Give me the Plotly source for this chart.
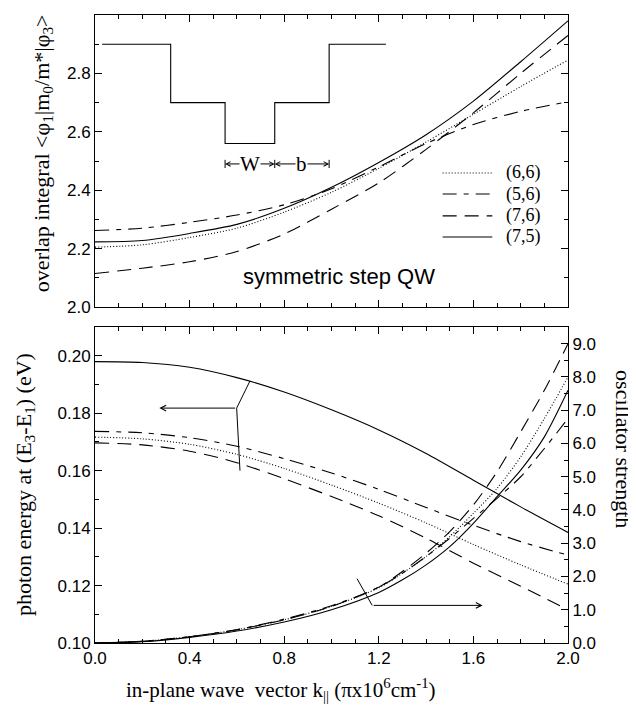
import plotly.graph_objects as go

# ---------------- data ----------------
# top panel: overlap integral vs k
k_top = [0.0, 0.2, 0.4, 0.6, 0.8, 1.0, 1.2, 1.4, 1.6, 1.8, 2.0]
overlap_66 = [2.205, 2.213, 2.238, 2.270, 2.325, 2.393, 2.475, 2.565, 2.660, 2.755, 2.846]
overlap_56 = [2.262, 2.270, 2.290, 2.315, 2.350, 2.405, 2.480, 2.560, 2.625, 2.670, 2.703]
overlap_76 = [2.115, 2.133, 2.155, 2.190, 2.250, 2.335, 2.425, 2.540, 2.665, 2.800, 2.930]
overlap_75 = [2.223, 2.228, 2.252, 2.283, 2.338, 2.410, 2.495, 2.590, 2.705, 2.840, 2.980]

# inset: symmetric step quantum-well profile
step_x = [0.03, 0.32, 0.32, 0.55, 0.55, 0.76, 0.76, 0.99, 0.99, 1.23]
step_y = [2.90, 2.90, 2.70, 2.70, 2.56, 2.56, 2.70, 2.70, 2.90, 2.90]

# bottom panel: photon energy (left axis)
k_energy = [0.0, 0.2, 0.4, 0.6, 0.8, 1.0, 1.2, 1.4, 1.6, 1.8, 2.0]
energy_66 = [0.1717, 0.1711, 0.1692, 0.1657, 0.1608, 0.1550, 0.1487, 0.1418, 0.1343, 0.1272, 0.1205]
energy_56 = [0.1737, 0.1732, 0.1715, 0.1685, 0.1642, 0.1592, 0.1535, 0.1472, 0.1410, 0.1353, 0.1306]
energy_76 = [0.1697, 0.1690, 0.1668, 0.1628, 0.1572, 0.1510, 0.1443, 0.1365, 0.1278, 0.1198, 0.1116]
energy_75 = [0.1980, 0.1977, 0.1960, 0.1924, 0.1874, 0.1812, 0.1742, 0.1660, 0.1567, 0.1474, 0.1385]

# bottom panel: oscillator strength (right axis)
k_osc = [0.0, 0.2, 0.4, 0.6, 0.8, 1.0, 1.2, 1.3, 1.4, 1.5, 1.6, 1.7, 1.8, 1.9, 2.0]
osc_66 = [0.0, 0.05, 0.19, 0.40, 0.70, 1.10, 1.66, 2.10, 2.60, 3.20, 3.90, 4.65, 5.60, 6.75, 8.00]
osc_56 = [0.0, 0.05, 0.19, 0.40, 0.72, 1.12, 1.68, 2.10, 2.60, 3.15, 3.75, 4.35, 5.00, 5.85, 6.75]
osc_76 = [0.0, 0.05, 0.19, 0.40, 0.70, 1.10, 1.68, 2.15, 2.70, 3.35, 4.15, 5.15, 6.35, 7.60, 9.00]
osc_75 = [0.0, 0.04, 0.17, 0.36, 0.63, 1.00, 1.52, 1.90, 2.35, 2.90, 3.60, 4.40, 5.20, 6.20, 7.60]

series_labels = ["(6,6)", "(5,6)", "(7,6)", "(7,5)"]

# ---------------- styles ----------------
DASHES = {
    "(6,6)": "1px,2px",
    "(5,6)": "14px,7px,5px,7px",
    "(7,6)": "14px,8px",
    "(7,5)": "solid",
}
LW = 1.1
INK = "black"
SERIF = "Liberation Serif, Times New Roman, serif"
SANS = "Liberation Sans, Arial, sans-serif"

overlap = dict(zip(series_labels, [overlap_66, overlap_56, overlap_76, overlap_75]))
energy = dict(zip(series_labels, [energy_66, energy_56, energy_76, energy_75]))
osc = dict(zip(series_labels, [osc_66, osc_56, osc_76, osc_75]))

fig = go.Figure()

for lab in series_labels:
    fig.add_trace(go.Scatter(
        x=k_top, y=overlap[lab], mode="lines", name=lab,
        line=dict(color=INK, width=LW, dash=DASHES[lab], shape="spline", smoothing=0.8),
        xaxis="x", yaxis="y", showlegend=False))

fig.add_trace(go.Scatter(
    x=step_x, y=step_y, mode="lines", line=dict(color=INK, width=LW),
    xaxis="x", yaxis="y", showlegend=False, hoverinfo="skip"))

for lab in series_labels:
    fig.add_trace(go.Scatter(
        x=k_energy, y=energy[lab], mode="lines", name=lab + " energy",
        line=dict(color=INK, width=LW, dash=DASHES[lab], shape="spline", smoothing=0.8),
        xaxis="x2", yaxis="y2", showlegend=False))
    fig.add_trace(go.Scatter(
        x=k_osc, y=osc[lab], mode="lines", name=lab + " osc",
        line=dict(color=INK, width=LW, dash=DASHES[lab], shape="spline", smoothing=0.8),
        xaxis="x2", yaxis="y3", showlegend=False))

shapes = []
annotations = []

# custom legend in the top panel
leg_y = [2.459, 2.387, 2.312, 2.240]
for lab, yy in zip(series_labels, leg_y):
    shapes.append(dict(type="line", xref="x", yref="y", x0=1.47, x1=1.68, y0=yy, y1=yy,
                       line=dict(color=INK, width=LW, dash=DASHES[lab])))
    annotations.append(dict(xref="x", yref="y", x=1.73, y=yy, text=lab, showarrow=False,
                            xanchor="left", yanchor="middle",
                            font=dict(family=SERIF, size=18, color=INK)))

# W / b markers in inset
wb_y = 2.49
bounds = [0.55, 0.76, 0.99]
for xb in bounds:
    shapes.append(dict(type="line", xref="x", yref="y", x0=xb, x1=xb, y0=wb_y - 0.014, y1=wb_y + 0.014,
                       line=dict(color=INK, width=1)))
for (a, b, t) in [(0.55, 0.76, "W"), (0.76, 0.99, "b")]:
    mid = (a + b) / 2
    for tip in (a, b):
        annotations.append(dict(xref="x", yref="y", axref="x", ayref="y", x=tip, y=wb_y,
                                ax=mid, ay=wb_y, text="", showarrow=True, arrowhead=5,
                                arrowsize=0.9, arrowwidth=1, arrowcolor=INK))
    annotations.append(dict(xref="x", yref="y", x=mid, y=wb_y, text=t, showarrow=False,
                            bgcolor="white", borderpad=0, xanchor="center", yanchor="middle",
                            font=dict(family=SERIF, size=21, color=INK)))

annotations.append(dict(xref="x", yref="y", x=1.03, y=2.105, text="symmetric step QW",
                        showarrow=False, xanchor="center", yanchor="middle",
                        font=dict(family=SANS, size=22, color=INK)))

# pointer annotations in the bottom panel
shapes += [
    dict(type="line", xref="x2", yref="y2", x0=0.655, y0=0.1912, x1=0.599, y1=0.1818,
         line=dict(color=INK, width=1)),
    dict(type="line", xref="x2", yref="y2", x0=0.599, y0=0.1818, x1=0.613, y1=0.1600,
         line=dict(color=INK, width=1)),
    dict(type="line", xref="x2", yref="y2", x0=1.108, y0=0.1224, x1=1.172, y1=0.1131,
         line=dict(color=INK, width=1)),
]
annotations.append(dict(xref="x2", yref="y2", axref="x2", ayref="y2", x=0.272, y=0.1818,
                        ax=0.599, ay=0.1818, text="", showarrow=True, arrowhead=5,
                        arrowsize=1.1, arrowwidth=1, arrowcolor=INK))
annotations.append(dict(xref="x2", yref="y2", axref="x2", ayref="y2", x=1.639, y=0.1131,
                        ax=1.172, ay=0.1131, text="", showarrow=True, arrowhead=5,
                        arrowsize=1.1, arrowwidth=1, arrowcolor=INK))

# axis titles
annotations += [
    dict(xref="paper", yref="paper", x=-0.11, y=0.78, textangle=-90, showarrow=False,
         xanchor="center", yanchor="middle",
         text="overlap integral &lt;φ<sub>1</sub>|m<sub>0</sub>/m*|φ<sub>3</sub>&gt;",
         font=dict(family=SERIF, size=22, color=INK)),
    dict(xref="paper", yref="paper", x=-0.148, y=0.253, textangle=-90, showarrow=False,
         xanchor="center", yanchor="middle",
         text="photon energy at (E<sub>3</sub>-E<sub>1</sub>) (eV)",
         font=dict(family=SERIF, size=22, color=INK)),
    dict(xref="paper", yref="paper", x=1.116, y=0.309, textangle=90, showarrow=False,
         xanchor="center", yanchor="middle",
         text="oscillator strength",
         font=dict(family=SERIF, size=22, color=INK)),
    dict(xref="paper", yref="paper", x=0.393, y=-0.074, showarrow=False,
         xanchor="center", yanchor="middle",
         text="in-plane wave \u00a0vector k<sub>||</sub> (πx10<sup>6</sup>cm<sup>-1</sup>)",
         font=dict(family=SERIF, size=21, color=INK)),
]

axis_common = dict(showline=True, linecolor=INK, linewidth=1, ticks="inside", ticklen=7,
                   tickcolor=INK, tickwidth=1, showgrid=False, zeroline=False,
                   tickfont=dict(family=SANS, size=17, color=INK))

# the page body adds an 8px offset, so the figure is sized to fit the 636x710 window
fig.update_layout(
    width=628, height=702,
    margin=dict(l=87, r=68, t=7, b=67),
    paper_bgcolor="white", plot_bgcolor="white",
    showlegend=False,
    shapes=shapes, annotations=annotations,
    xaxis=dict(domain=[0, 1], range=[0, 2], anchor="y", showticklabels=False,
               dtick=0.4, tick0=0, mirror="ticks",
               minor=dict(dtick=0.1, ticks="inside", ticklen=4, tickcolor=INK),
               **axis_common),
    yaxis=dict(domain=[0.535, 1], range=[2.0, 3.0], anchor="x", dtick=0.2, tick0=2.0,
               tickformat=".1f", mirror="ticks",
               minor=dict(dtick=0.1, ticks="inside", ticklen=4, tickcolor=INK),
               **axis_common),
    xaxis2=dict(domain=[0, 1], range=[0, 2], anchor="y2", dtick=0.4, tick0=0,
                tickformat=".1f", mirror="ticks",
                minor=dict(dtick=0.1, ticks="inside", ticklen=4, tickcolor=INK),
                **axis_common),
    yaxis2=dict(domain=[0, 0.503], range=[0.10, 0.21], anchor="x2", dtick=0.02, tick0=0.10,
                tickformat=".2f",
                minor=dict(dtick=0.01, ticks="inside", ticklen=4, tickcolor=INK),
                **axis_common),
    yaxis3=dict(overlaying="y2", side="right", anchor="x2", range=[0, 9.5], dtick=1.0, tick0=0,
                tickformat=".1f",
                minor=dict(dtick=0.5, ticks="inside", ticklen=4, tickcolor=INK),
                **axis_common),
)

fig.write_html("out.html")
